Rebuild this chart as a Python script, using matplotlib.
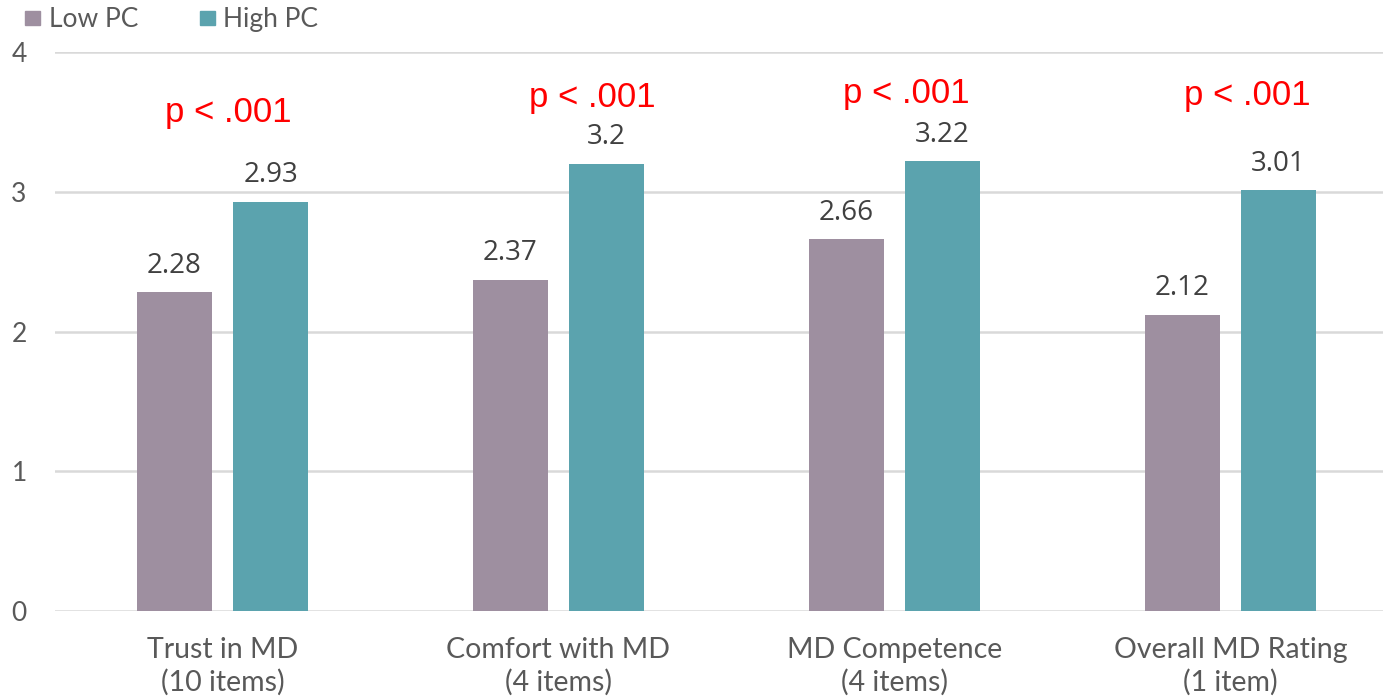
import matplotlib.pyplot as plt
from matplotlib.patches import Rectangle
import numpy as np

categories = ["Trust in MD\n(10 items)", "Comfort with MD\n(4 items)",
              "MD Competence\n(4 items)", "Overall MD Rating\n(1 item)"]
low_pc = [2.28, 2.37, 2.66, 2.12]
high_pc = [2.93, 3.2, 3.22, 3.01]
series_names = ["Low PC", "High PC"]
p_labels = ["p < .001", "p < .001", "p < .001", "p < .001"]
# placement of the significance notes (x shift from group centre, baseline height)
p_dx = [0.016, 0.102, 0.034, 0.049]
p_y = [3.50, 3.606, 3.635, 3.621]
yticks = [0, 1, 2, 3, 4]

low_color = "#9e8fa0"
high_color = "#5ba3ae"
axis_font = "Lato"
label_font = "Open Sans"

W, H = 1383, 697
fig = plt.figure(figsize=(W / 100, H / 100), dpi=100)
ax = fig.add_axes([54.5 / W, 86 / H, 1344 / W, 559 / H])

x = np.arange(len(categories))
bw = 0.223
off = 0.143
b1 = ax.bar(x - off, low_pc, bw, color=low_color, zorder=3)
b2 = ax.bar(x + off, high_pc, bw, color=high_color, zorder=3)

for bars, vals in ((b1, low_pc), (b2, high_pc)):
    for rect, v in zip(bars, vals):
        ax.annotate(f"{v:g}", (rect.get_x() + rect.get_width() / 2, v),
                    xytext=(0, 14), textcoords="offset points",
                    ha="center", va="baseline", fontsize=20,
                    family=label_font, color="#404040")

for xi, dx, yy, txt in zip(x, p_dx, p_y, p_labels):
    ax.text(xi + dx, yy, txt, ha="center", va="baseline", fontsize=25,
            family="Liberation Sans", color="#ff0000")

ax.set_xlim(-0.5, len(categories) - 0.5)
ax.set_ylim(0, 4)
ax.set_yticks(yticks)
ax.set_yticklabels([str(t) for t in yticks], family=axis_font,
                   fontsize=19, color="#595959")
ax.set_xticks(x)
ax.set_xticklabels(categories, family=axis_font, fontsize=20.5,
                   color="#595959", linespacing=1.27)
ax.tick_params(axis="both", length=0)
ax.tick_params(axis="y", pad=20)
ax.tick_params(axis="x", pad=19)
ax.grid(axis="y", color="#d9d9d9", linewidth=1.8, zorder=0)
for s in ax.spines.values():
    s.set_visible(False)

# legend row
legend_items = [(25, 49, low_color, series_names[0]),
                (200, 223, high_color, series_names[1])]
for sx, tx, col, name in legend_items:
    fig.add_artist(Rectangle((sx / W, 1 - 25 / H), 15 / W, 14 / H,
                             transform=fig.transFigure, color=col))
    fig.text(tx / W, 1 - 27 / H, name, ha="left", va="baseline",
             family=axis_font, fontsize=19, color="#595959")

fig.savefig("out.png", dpi=100)
